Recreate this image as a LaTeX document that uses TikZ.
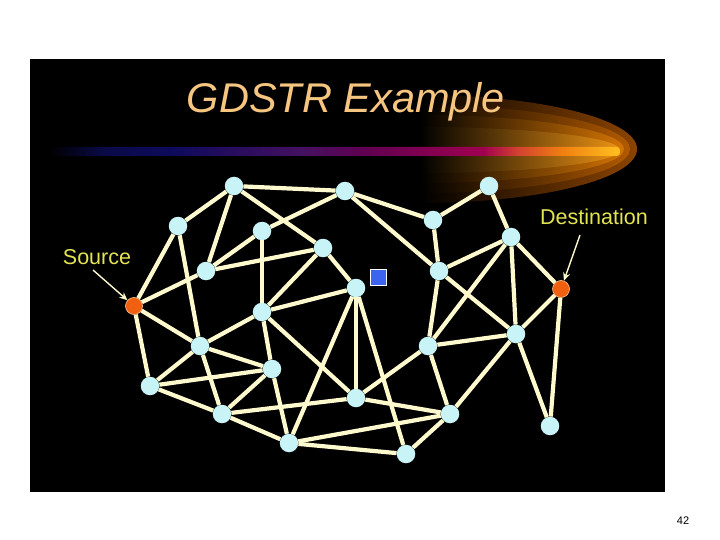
\documentclass[tikz,border=0pt]{standalone}
\usepackage{fontspec}
\setmainfont{Liberation Sans}
\usetikzlibrary{arrows.meta}
\definecolor{panelblack}{RGB}{0, 0, 0}
\definecolor{linkcream}{RGB}{255, 250, 205}
\definecolor{nodecyan}{RGB}{200, 244, 248}
\definecolor{endorange}{RGB}{240, 96, 16}
\definecolor{labelyellow}{RGB}{228, 228, 80}
\definecolor{titlegold}{RGB}{246, 198, 128}
\definecolor{voidblue}{RGB}{60, 100, 240}
\definecolor{glowa}{RGB}{140, 68, 0}
\definecolor{glowb}{RGB}{178, 90, 0}
\definecolor{glowc}{RGB}{212, 116, 4}
\definecolor{glowd}{RGB}{236, 146, 20}
\definecolor{barnavy}{RGB}{10, 10, 72}
\definecolor{barblue}{RGB}{14, 10, 92}
\definecolor{barviolet}{RGB}{70, 16, 96}
\definecolor{barplum}{RGB}{96, 0, 80}
\definecolor{barcrimson}{RGB}{160, 0, 80}
\definecolor{barred}{RGB}{210, 64, 48}
\definecolor{barorange}{RGB}{240, 128, 16}
\definecolor{baryellow}{RGB}{255, 192, 32}
\pgfdeclarehorizontalshading{glowbar}{100bp}{
  color(0bp)=(black); color(25bp)=(black); color(30bp)=(barnavy); color(36bp)=(barblue);
  color(47.5bp)=(barviolet); color(52.5bp)=(barplum); color(63bp)=(barcrimson);
  color(66bp)=(barred); color(70bp)=(barorange); color(75bp)=(baryellow); color(100bp)=(baryellow)}
\begin{document}
\begin{tikzpicture}[x=1pt, y=-1pt,
    relay/.style={circle, fill=nodecyan, inner sep=0pt, minimum size=18.5pt},
    endpoint/.style={circle, fill=endorange, draw=orange!40, line width=0.6pt, inner sep=0pt, minimum size=17pt},
    link/.style={draw=linkcream, line width=4.2pt},
    pointer/.style={draw=linkcream, line width=1.4pt, -{Stealth[length=8pt, width=7pt]}},
    tag/.style={text=labelyellow, font=\fontsize{21.5}{21.5}\selectfont}]
    \useasboundingbox (0,0) rectangle (720,540);
    \fill[white] (0,0) rectangle (720,540);
    \fill[panelblack] (30,59) rectangle (665,492);
    % glow behind the title
    \shade[left color=black, middle color=glowa!65!black, right color=glowa] (420,95) arc[start angle=-90, end angle=90, x radius=217, y radius=54] -- cycle;
    \shade[left color=black, middle color=glowb!65!black, right color=glowb] (420,105) arc[start angle=-90, end angle=90, x radius=210, y radius=44] -- cycle;
    \shade[left color=black, middle color=glowc!65!black, right color=glowc] (420,115) arc[start angle=-90, end angle=90, x radius=204, y radius=34] -- cycle;
    \shade[left color=black, middle color=glowd!65!black, right color=glowd] (420,127) arc[start angle=-90, end angle=90, x radius=200, y radius=23] -- cycle;
    \shade[shading=glowbar, rounded corners=3.5pt] (48,147) rectangle (620,156);
    \node[text=titlegold, font=\fontsize{41.5}{41.5}\selectfont\itshape] (title) at (346,102) {GDSTR Example};

    \node[relay] (n1) at (234,186) {};
    \node[relay] (n2) at (345,191) {};
    \node[relay] (n3) at (489,186) {};
    \node[relay] (n4) at (178,226) {};
    \node[relay] (n5) at (262,231) {};
    \node[relay] (n6) at (433,220) {};
    \node[relay] (n7) at (511,237) {};
    \node[relay] (n8) at (323,248) {};
    \node[relay] (n9) at (206,271) {};
    \node[relay] (n10) at (439,271) {};
    \node[relay] (n11) at (356,288) {};
    \node[relay] (n12) at (262,312) {};
    \node[relay] (n13) at (200,346) {};
    \node[relay] (n14) at (428,346) {};
    \node[relay] (n15) at (516,334) {};
    \node[relay] (n16) at (150,386) {};
    \node[relay] (n17) at (272,369) {};
    \node[relay] (n18) at (356,398) {};
    \node[relay] (n19) at (222,414) {};
    \node[relay] (n20) at (450,414) {};
    \node[relay] (n21) at (289,443) {};
    \node[relay] (n22) at (406,454) {};
    \node[relay] (n23) at (550,426) {};
    \node[endpoint] (src) at (134,306) {};
    \node[endpoint] (dst) at (561,289) {};

    \foreach \a/\b in {n1/n2, n1/n4, n1/n9, n1/n8, n2/n5, n2/n6, n2/n10, n3/n6, n3/n7,
        n4/src, n4/n13, n5/n9, n5/n12, n9/n8, n9/src, n8/n11, n8/n12, n12/n11,
        n6/n10, n7/n10, n7/dst, n7/n15, n7/n14, n10/n15, n10/n14, n14/n15, n14/n18,
        n14/n20, n15/dst, n15/n20, n15/n23, dst/n23, n11/n21, n11/n18, n11/n22,
        src/n13, src/n16, n12/n13, n12/n17, n12/n18, n13/n16, n13/n17, n13/n19,
        n16/n17, n16/n19, n17/n19, n17/n21, n19/n21, n19/n18, n18/n20, n20/n22,
        n21/n20, n21/n22}
        \draw[link] (\a) -- (\b);

    \node[draw=white, fill=voidblue, line width=0.6pt, minimum size=16pt, inner sep=0pt] (hole) at (378,277) {};

    \node[tag] (srclabel) at (97,257) {Source};
    \node[tag] (dstlabel) at (594,217) {Destination};
    \coordinate (srctail) at (93,270);
    \coordinate (dsttail) at (580,235);
    \draw[pointer] (srctail) -- (src);
    \draw[pointer] (dsttail) -- (dst);

    \node[font=\fontsize{11}{11}\selectfont] (page) at (683,521) {42};
\end{tikzpicture}
\end{document}
